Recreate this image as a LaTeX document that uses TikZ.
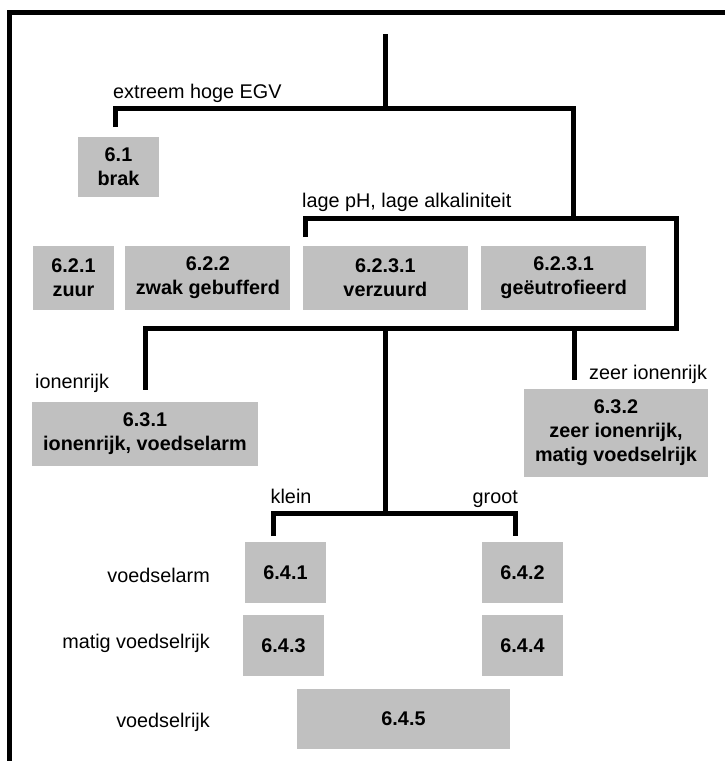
\documentclass[tikz,border=0pt]{standalone}
\usepackage{fontspec}
\setmainfont{Liberation Sans}
\usetikzlibrary{positioning}
\definecolor{boxgray}{RGB}{192,192,192}

\begin{document}
\begin{tikzpicture}[x=1pt, y=-1pt,
	box/.style 2 args={fill=boxgray, inner sep=0pt, align=center, minimum width=#1, minimum height=#2, font=\fontsize{19.8}{24}\selectfont\bfseries},
	lbl/.style={inner sep=0pt, font=\fontsize{19.8}{24}\selectfont},
	tree/.style={line width=5pt, line join=miter}]
	\useasboundingbox (0,0) rectangle (725,761);
	\draw[tree] (9.5,761) -- (9.5,12.5) -- (725,12.5);

	\coordinate (T) at (385,34);
	\coordinate (J1) at (385,108);
	\coordinate (L1) at (115,127);
	\coordinate (J2) at (573,218);
	\coordinate (L2) at (305,237);
	\coordinate (J3) at (676,328);
	\coordinate (M3) at (385,328);
	\coordinate (L3) at (145,390);
	\coordinate (R3) at (574,380);
	\coordinate (J4) at (385,513);
	\coordinate (L4) at (273,536);
	\coordinate (R4) at (515,536);

	\draw[tree] (T) -- (J1);
	\draw[tree] (L1) |- (J1) -| (J2);
	\draw[tree] (L2) |- (J2) -| (J3) -| (L3);
	\draw[tree] (M3) -- (J4);
	\draw[tree] (R3 |- M3) -- (R3);
	\draw[tree] (L4) |- (J4) -| (R4);

	\node[lbl, anchor=base west] (egv) at (113,98.5) {extreem hoge EGV};
	\node[lbl, anchor=base west] (ph) at (302,207) {lage pH, lage alkaliniteit};
	\node[lbl, anchor=base west] (ion) at (35,388) {ionenrijk};
	\node[lbl, anchor=base west] (zion) at (589,379) {zeer ionenrijk};
	\node[lbl, anchor=base west] (klein) at (270.5,503) {klein};
	\node[lbl, anchor=base east] (groot) at (518,503) {groot};
	\node[lbl, anchor=base east] (arm) at (210,582) {voedselarm};
	\node[lbl, anchor=base east] (matig) at (210,648) {matig voedselrijk};
	\node[lbl, anchor=base east] (rijk) at (210,727) {voedselrijk};

	\node[box={81pt}{60pt}] (b61) at (118.5,167) {6.1\\brak};
	\node[box={81pt}{64pt}] (b621) at (73.5,278) {6.2.1\\zuur};
	\node[box={165pt}{64pt}, right=11pt of b621] (b622) {6.2.2\\zwak gebufferd};
	\node[box={165pt}{64pt}, right=12pt of b622] (b6231) {6.2.3.1\\verzuurd};
	\node[box={165pt}{64pt}, right=13pt of b6231] (b6232) {6.2.3.1\\geëutrofieerd};
	\node[box={226pt}{64pt}] (b631) at (145,434) {6.3.1\\ionenrijk, voedselarm};
	\node[box={184pt}{88pt}] (b632) at (616,433) {6.3.2\\zeer ionenrijk,\\matig voedselrijk};
	\node[box={81pt}{61pt}] (b641) at (285.5,572.5) {6.4.1};
	\node[box={81pt}{61pt}] (b642) at (522.5,572.5) {6.4.2};
	\node[box={81pt}{61pt}] (b643) at (283.5,645.5) {6.4.3};
	\node[box={81pt}{61pt}] (b644) at (522.5,645.5) {6.4.4};
	\node[box={213pt}{60pt}] (b645) at (403.5,719) {6.4.5};
\end{tikzpicture}
\end{document}
